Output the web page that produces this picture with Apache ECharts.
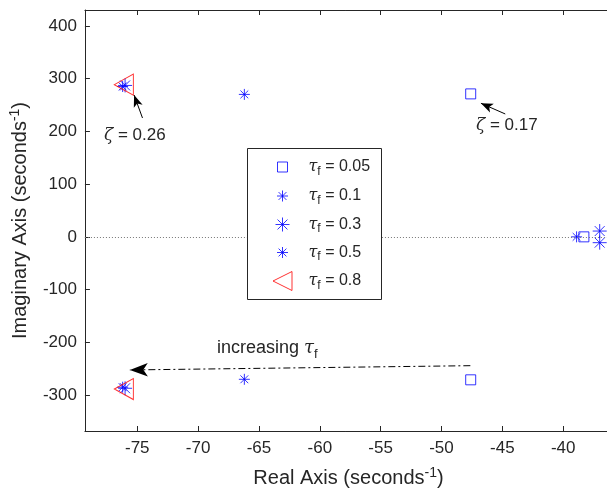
<!DOCTYPE html>
<html><head><meta charset="utf-8">
<script src="https://cdn.jsdelivr.net/npm/echarts@6/dist/echarts.min.js"></script>
<style>html,body{margin:0;padding:0;background:#fff;overflow:hidden}#c{width:607px;height:495px}</style>
</head><body><div id="c"></div>
<script>
// ---- data ----
const tauValues = ['0.05', '0.1', '0.3', '0.5', '0.8'];
const poles005 = [[-47.6, 271], [-47.6, -271], [-38.3, 0]];
const poles01  = [[-66.2, 270], [-66.2, -270], [-38.9, 0]];
const poles03  = [[-76.0, 287], [-76.0, -287], [-37.0, 11], [-37.0, -11]];
const poles05  = [[-76.2, 285], [-76.2, -285]];
const poles08  = [[-76.1, 288.5], [-76.1, -288.5]];
const xTicks = [-75, -70, -65, -60, -55, -50, -45, -40];
const yTicks = [-300, -200, -100, 0, 100, 200, 300, 400];
const xRange = [-79.3, -36.4];
const yRange = [-368, 430];
// annotation arrows (data coordinates): [tail, tip]
const arrowZeta026 = [[-74.57, 225.3], [-75.26, 268.9]];
const arrowZeta017 = [[-44.76, 232.9], [-46.76, 253.2]];
const arrowIncreasing = [[-47.63, -244.2], [-75.61, -252.3]];
const zetaLabels = ['0.26', '0.17'];

// ---- styles ----
const FONT = 'Liberation Sans, Arial, Helvetica, sans-serif';
const TXT = '#262626';
const BLUE = '#0000ff';
const RED = '#ff0000';
const STAR = 'path://M0,5L10,5M5,0L5,10M1.46,1.46L8.54,8.54M1.46,8.54L8.54,1.46';
const TRI_L = 'path://M0,5L10,0L10,10Z';

const seriesDefs = [
  { data: poles005, symbol: 'rect', size: [10, 10], color: BLUE },
  { data: poles01,  symbol: STAR,   size: [11, 11], color: BLUE },
  { data: poles03,  symbol: STAR,   size: [14, 14], color: BLUE },
  { data: poles05,  symbol: STAR,   size: [11, 11], color: BLUE },
  { data: poles08,  symbol: TRI_L,  size: [19, 21], color: RED }
];
const legendCY = [167.5, 196.5, 225, 253, 281.5];

const names = tauValues.map(v => 'tau ' + v);

const series = seriesDefs.map((d, i) => ({
  type: 'scatter',
  name: names[i],
  data: d.data,
  symbol: d.symbol,
  symbolSize: d.size,
  itemStyle: { color: 'rgba(0,0,0,0)', borderColor: d.color, borderWidth: 1 },
  emphasis: { disabled: true },
  z: 3
}));

series.push({
  type: 'line',
  name: 'zero',
  data: [],
  silent: true,
  markLine: {
    silent: true,
    animation: false,
    symbol: ['none', 'none'],
    label: { show: false },
    emphasis: { disabled: true },
    lineStyle: { color: '#777', width: 1, type: [1, 2] },
    data: [{ yAxis: 0 }]
  },
  z: 2
});
series.push({
  type: 'line', name: 'arrow1', data: [], silent: true,
  markLine: { silent: true, animation: false, label: { show: false }, emphasis: { disabled: true },
    symbol: ['none', 'arrow'], symbolSize: [7, 12],
    lineStyle: { color: '#000', width: 1, type: 'solid' }, itemStyle: { color: '#000' },
    data: [[{ coord: arrowZeta026[0] }, { coord: arrowZeta026[1] }],
           [{ coord: arrowZeta017[0] }, { coord: arrowZeta017[1] }]] },
  z: 4
});
series.push({
  type: 'line', name: 'arrow2', data: [], silent: true,
  markLine: { silent: true, animation: false, label: { show: false }, emphasis: { disabled: true },
    symbol: ['none', 'arrow'], symbolSize: [10, 18],
    lineStyle: { color: '#000', width: 1, type: [7, 3, 2, 3] }, itemStyle: { color: '#000' },
    data: [[{ coord: arrowIncreasing[0] }, { coord: arrowIncreasing[1] }]] },
  z: 4
});

const legends = seriesDefs.map((d, i) => {
  const w = d.size[0], h = d.size[1];
  const spacer = 21 - w / 2;
  return {
    show: true,
    orient: 'vertical',
    left: 282 - w / 2,
    top: legendCY[i] - 11,
    padding: 0,
    itemWidth: w,
    itemHeight: h,
    selectedMode: false,
    z: 20,
    data: [{ name: names[i], icon: d.symbol }],
    itemStyle: { color: 'rgba(0,0,0,0)', borderColor: d.color, borderWidth: 1 },
    formatter: () => '{t|τ}{s|f}{n| = ' + tauValues[i] + '}',
    textStyle: {
      color: TXT,
      rich: {
        t: { fontFamily: 'DejaVu Serif', fontStyle: 'italic', fontSize: 16, color: TXT, lineHeight: 22, padding: [0, 0, 0, spacer] },
        s: { fontFamily: FONT, fontSize: 12, color: TXT, lineHeight: 22, padding: [9, 0, 0, 0] },
        n: { fontFamily: FONT, fontSize: 16, color: TXT, lineHeight: 22 }
      }
    }
  };
});

const option = {
  animation: false,
  backgroundColor: '#fff',
  textStyle: { fontFamily: FONT },
  grid: { left: 84, top: 10, right: 0, bottom: 64, show: false },
  xAxis: [{
    type: 'value', min: xRange[0], max: xRange[1],
    axisLine: { show: true, onZero: false, lineStyle: { color: TXT, width: 1 } },
    axisTick: { show: true, inside: true, length: 5, customValues: xTicks, lineStyle: { color: TXT } },
    axisLabel: { customValues: xTicks, fontSize: 17, color: TXT, fontFamily: FONT, margin: 9 },
    splitLine: { show: false },
    name: '{a|Real Axis (seconds}{b|-1}{a|)}',
    nameLocation: 'middle', nameGap: 35,
    nameTextStyle: { padding: [0, 0, 0, 5], rich: {
      a: { fontSize: 20, fontFamily: FONT, color: TXT, lineHeight: 24 },
      b: { fontSize: 14, fontFamily: FONT, color: TXT, lineHeight: 24, padding: [0, 0, 10, 0] }
    } }
  }, {
    type: 'value', min: xRange[0], max: xRange[1], position: 'top',
    axisLine: { show: true, onZero: false, lineStyle: { color: TXT, width: 1 } },
    axisTick: { show: true, inside: true, length: 5, customValues: xTicks, lineStyle: { color: TXT } },
    axisLabel: { show: false },
    splitLine: { show: false }
  }],
  yAxis: {
    type: 'value', min: yRange[0], max: yRange[1],
    axisLine: { show: true, onZero: false, lineStyle: { color: TXT, width: 1 } },
    axisTick: { show: true, inside: true, length: 5, customValues: yTicks, lineStyle: { color: TXT } },
    axisLabel: { customValues: yTicks, fontSize: 17, color: TXT, fontFamily: FONT, margin: 8 },
    splitLine: { show: false },
    name: '{a|Imaginary Axis (seconds}{b|-1}{a|)}',
    nameLocation: 'middle', nameGap: 45, nameRotate: 90,
    nameTextStyle: { rich: {
      a: { fontSize: 20, fontFamily: FONT, color: TXT, lineHeight: 24 },
      b: { fontSize: 14, fontFamily: FONT, color: TXT, lineHeight: 24, padding: [0, 0, 10, 0] }
    } }
  },
  legend: legends,
  graphic: [
    { type: 'rect', z: 10, shape: { x: 247.5, y: 148.5, width: 134, height: 151 },
      style: { fill: '#fff', stroke: TXT, lineWidth: 1 } },
    { type: 'text', z: 10, left: 104, top: 127,
      style: { text: '{z|ζ}{n| = ' + zetaLabels[0] + '}', rich: {
        z: { fontFamily: 'DejaVu Serif', fontStyle: 'italic', fontSize: 17, fill: TXT },
        n: { fontFamily: FONT, fontSize: 17, fill: TXT } } } },
    { type: 'text', z: 10, left: 476, top: 117,
      style: { text: '{z|ζ}{n| = ' + zetaLabels[1] + '}', rich: {
        z: { fontFamily: 'DejaVu Serif', fontStyle: 'italic', fontSize: 17, fill: TXT },
        n: { fontFamily: FONT, fontSize: 17, fill: TXT } } } },
    { type: 'text', z: 10, left: 217, top: 336,
      style: { text: '{n|increasing }{t|τ}{s|f}', rich: {
        n: { fontFamily: FONT, fontSize: 18, fill: TXT, lineHeight: 24 },
        t: { fontFamily: 'DejaVu Serif', fontStyle: 'italic', fontSize: 18, fill: TXT, lineHeight: 24 },
        s: { fontFamily: FONT, fontSize: 13, fill: TXT, lineHeight: 24, padding: [12, 0, 0, 0] } } } }
  ],
  series: series
};

const chart = echarts.init(document.getElementById('c'), null, { renderer: 'canvas' });
chart.setOption(option);
</script>
</body></html>
